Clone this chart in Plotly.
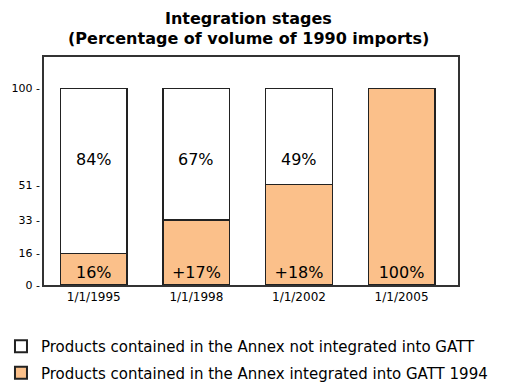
import plotly.graph_objects as go

dates = ["1/1/1995", "1/1/1998", "1/1/2002", "1/1/2005"]
integrated = [16, 17, 18, 49]          # increments, cumulative: 16, 33, 51, 100
integrated_labels = ["16%", "+17%", "+18%", "100%"]
not_integrated = [84, 67, 49, 0]
not_integrated_labels = ["84%", "67%", "49%", ""]
ytick_vals = [0, 16, 33, 51, 100]
title_lines = ["Integration stages", "(Percentage of volume of 1990 imports)"]

cum = []
s = 0
for v in integrated:
    s += v
    cum.append(s)

SANS = "Liberation Sans, Arial, sans-serif"
WIDE = "DejaVu Sans, Verdana, sans-serif"
LABEL_Y = 64  # height (in axis units) at which the upper-segment labels sit

fig = go.Figure()
fig.add_trace(go.Bar(
    x=dates, y=cum, name="Products contained in the Annex integrated into GATT 1994",
    marker=dict(color="#FBC08A", line=dict(color="#222222", width=1.3)),
    text=integrated_labels, textposition="inside", insidetextanchor="start",
    textfont=dict(size=16, color="black", family=WIDE),
    width=0.65, legendgroup="b", legendrank=2,
))
fig.add_trace(go.Bar(
    x=dates, y=not_integrated, name="Products contained in the Annex not integrated into GATT",
    marker=dict(color="white", line=dict(color="#222222", width=1.3)),
    width=0.65, legendgroup="a", legendrank=1,
))

for d, lab in zip(dates, not_integrated_labels):
    if lab:
        fig.add_annotation(x=d, y=LABEL_Y, text=lab, showarrow=False,
                           font=dict(size=16, color="black", family=WIDE))

fig.add_annotation(x=0.493, y=1.17, xref="paper", yref="paper", text="<b>%s</b>" % title_lines[0],
                   showarrow=False, yanchor="middle",
                   font=dict(size=16, color="black", family=WIDE))
fig.add_annotation(x=0.493, y=1.08, xref="paper", yref="paper", text="<b>%s</b>" % title_lines[1],
                   showarrow=False, yanchor="middle",
                   font=dict(size=16, color="black", family=WIDE))

fig.update_layout(
    barmode="stack",
    width=532, height=388,
    margin=dict(l=36, r=82, t=49, b=111, autoexpand=False),
    paper_bgcolor="white", plot_bgcolor="white",
    font=dict(family=SANS, color="black"),
    uniformtext=dict(minsize=8, mode="show"),
    legend=dict(
        x=-0.087, y=-0.197, xanchor="left", yanchor="top",
        traceorder="grouped", orientation="v",
        font=dict(size=15, color="black", family=WIDE),
        bgcolor="rgba(0,0,0,0)", itemsizing="constant",
        indentation=-7, tracegroupgap=4,
    ),
    showlegend=True,
)
fig.update_xaxes(
    showline=True, linecolor="#333333", linewidth=1.5, mirror=True,
    ticks="", tickfont=dict(size=12, color="black", family=WIDE),
    range=[-0.485, 3.55], automargin=False,
)
fig.update_yaxes(
    range=[0, 116], tickvals=ytick_vals, ticktext=[str(v) + " -" for v in ytick_vals],
    showline=True, linecolor="#333333", linewidth=1.5, mirror=True,
    showgrid=False, zeroline=False, ticks="",
    tickfont=dict(size=11, color="black", family=WIDE), automargin=False,
)
fig.write_html("out.html")
